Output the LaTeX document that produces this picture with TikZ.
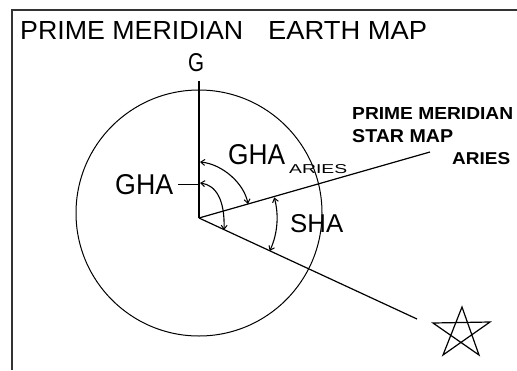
\documentclass[tikz,border=0pt]{standalone}
\usepackage{fontspec}
\setmainfont{Liberation Sans}
\usepackage{graphicx}
\usetikzlibrary{arrows.meta}
\newcommand{\fitbox}[3]{\resizebox{#1pt}{#2pt}{#3}}
\begin{document}
\begin{tikzpicture}[x=1pt,y=-1pt,
  lbl/.style={inner sep=0pt, anchor=south west},
  ray/.style={line width=1.2pt},
  frameline/.style={line width=1.6pt, black!80},
  globe/.style={line width=1pt},
  barb/.tip={Straight Barb[length=4pt,width=6pt,line width=1pt]},
  angarrow/.style={line width=1.1pt, barb-barb}]
\useasboundingbox (0,0) rectangle (517,370);
% open frame
\draw[frameline] (12,370) -- (12,10) -- (517,10);
% key points
\coordinate (O) at (199,218);
\coordinate (Gtop) at (199,81);
\coordinate (Aend) at (430,152);
\coordinate (Send) at (417,319);
% earth circle
\draw[globe] (199,213) circle[radius=123];
% meridian rays
\draw[ray] (Gtop) -- (O);
\draw[ray] (O) -- (Aend);
\draw[ray] (O) -- (Send);
% labels
\node[lbl] (title) at (20,40) {\fitbox{223}{18}{PRIME MERIDIAN}\hspace{25pt}\fitbox{159}{18}{EARTH MAP}};
\node[lbl] (G) at (188,72) {\fitbox{16}{18}{G}};
\node[lbl] (gha) at (115,195) {\fitbox{58}{20}{GHA}};
\node[lbl] (ghaA) at (228,165) {\fitbox{57}{20}{GHA}};
\node[lbl] (ghaAsub) at (289,174) {\fitbox{58}{9}{ARIES}};
\node[lbl] (sha) at (290,233) {\fitbox{53}{18}{SHA}};
\node[lbl] (pm) at (352,120) {\fitbox{161}{12}{\bfseries PRIME MERIDIAN}};
\node[lbl] (sm) at (352,143) {\fitbox{101}{13}{\bfseries STAR MAP}};
\node[lbl] (ar) at (452,165) {\fitbox{58}{12}{\bfseries ARIES}};
% GHA leader
\draw[ray] ([xshift=5pt]gha.east) -- (gha.east -| O);
% angle arrows
\draw[angarrow] (200,162) .. controls (222,164) and (244,183) .. (248,204);
\draw[angarrow] (200,183) .. controls (216,185) and (225,200) .. (224,230);
\draw[angarrow] (O) ++(-15.3:78) arc[start angle=-15.3, end angle=25, radius=78];
% star
\coordinate (st1) at (462,307);
\coordinate (st2) at (443,355);
\coordinate (st3) at (490,322);
\coordinate (st4) at (433,323);
\coordinate (st5) at (479,355);
\draw[line width=1.2pt, line join=miter] (st1) -- (st2) -- (st3) -- (st4) -- (st5) -- cycle;
\end{tikzpicture}
\end{document}
